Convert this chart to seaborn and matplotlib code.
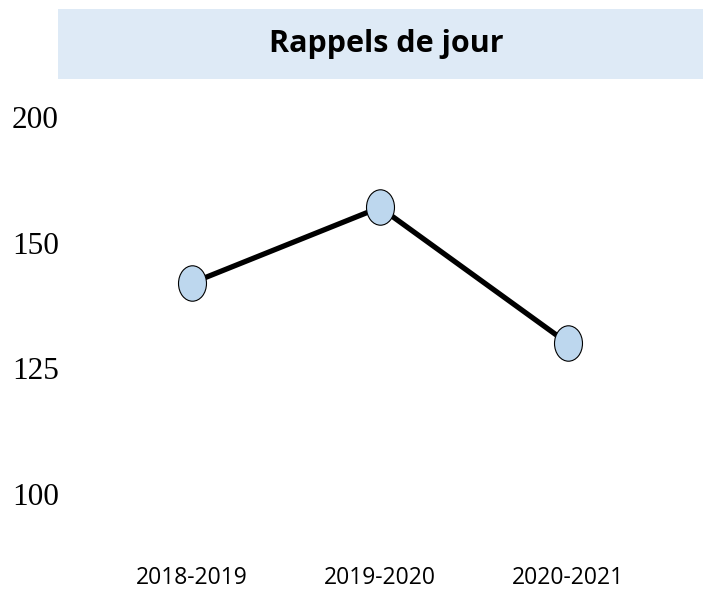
import numpy as np
import pandas as pd
import matplotlib
matplotlib.use("Agg")
import matplotlib.pyplot as plt
from matplotlib.path import Path
from matplotlib.patches import Rectangle
from matplotlib.transforms import Affine2D
import seaborn as sns

# ── Data ──────────────────────────────────────────────────────────────────────
seasons = ["2018-2019", "2019-2020", "2020-2021"]
rappels = [142, 164, 130]
y_ticks = [100, 125, 150, 200]
title = "Rappels de jour"

df = pd.DataFrame({"Saison": seasons, "Rappels": rappels})

# ── Style ─────────────────────────────────────────────────────────────────────
sns.set_theme(style="white")

# y axis: ticks equally spaced even though the values are not
knots_val = [50, 100, 125, 150, 200, 300]
knots_pos = [-2, 0, 1, 2, 3, 5]


def forward(v):
    return np.interp(v, knots_val, knots_pos)


def inverse(p):
    return np.interp(p, knots_pos, knots_val)


# ellipse marker, a bit taller than wide
ellipse = Path.unit_circle().transformed(Affine2D().scale(0.79, 1.0))

fig = plt.figure(figsize=(7.03, 5.90), dpi=100)
ax = fig.add_axes([70 / 703, 30 / 590, 633 / 703, 465 / 590])

sns.lineplot(data=df, x="Saison", y="Rappels", ax=ax, color="black",
             linewidth=3.8, marker=ellipse, markersize=25.5,
             markerfacecolor="#BDD7EE", markeredgecolor="black",
             markeredgewidth=0.8, sort=False)

ax.set_yscale("function", functions=(forward, inverse))
ax.set_yticks(y_ticks)
ax.set_yticklabels([str(t) for t in y_ticks])
ax.set_ylim(86.9, 208.7)
ax.set_xlim(-0.65, 2.72)

for s in ax.spines.values():
    s.set_visible(False)
ax.grid(False)
ax.set_xlabel("")
ax.set_ylabel("")
ax.tick_params(axis="both", length=0)
ax.tick_params(axis="y", pad=8)
ax.tick_params(axis="x", pad=4)
for lab in ax.get_yticklabels():
    lab.set_fontfamily("Liberation Serif")
    lab.set_fontsize(22.5)
    lab.set_color("black")
for lab in ax.get_xticklabels():
    lab.set_fontfamily("Open Sans")
    lab.set_fontsize(16.5)
    lab.set_color("black")

# title banner
fig.patches.append(Rectangle((58 / 703, 1 - 79 / 590), 645 / 703, 70 / 590,
                             transform=fig.transFigure, facecolor="#DEEAF6",
                             edgecolor="none", zorder=0))
fig.text(386 / 703, 1 - 44 / 590, title, ha="center", va="center",
         fontsize=22, fontweight="bold", family="Open Sans", color="black")

fig.savefig("out.png", dpi=100)
